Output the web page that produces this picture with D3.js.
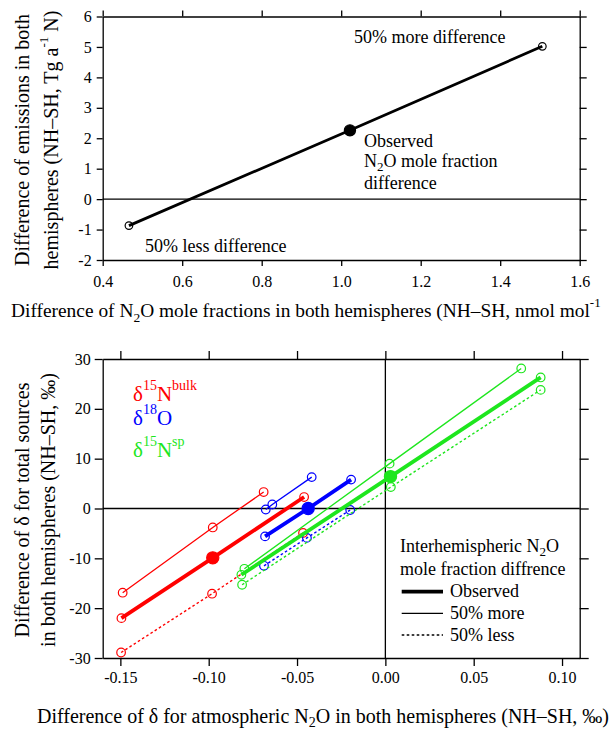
<!DOCTYPE html>
<html>
<head>
<meta charset="utf-8">
<script src="https://cdn.jsdelivr.net/npm/d3@7"></script>
<style>
  body { margin: 0; background: #fff; }
  svg text { font-family: "Liberation Serif", "Times New Roman", serif; }
</style>
</head>
<body>
<svg id="fig" width="613" height="730"></svg>
<script>
// upper panel: emission difference vs. interhemispheric mole fraction difference
const moleDiff = [0.466, 1.022, 1.506];
const emisDiff = [-0.87, 2.26, 5.02];
const moleTicks = [0.4, 0.6, 0.8, 1.0, 1.2, 1.4, 1.6];
const emisTicks = [-2, -1, 0, 1, 2, 3, 4, 5, 6];

// lower panel: source delta vs atmospheric delta (x = atmosphere, y = sources)
const bulkObsX = [-0.1494, -0.0977, -0.0460];
const bulkObsY = [-22.0, -9.9, 2.3];
const bulkMoreX = [-0.1487, -0.0977, -0.0689];
const bulkMoreY = [-16.9, -3.8, 3.3];
const bulkLessX = [-0.1496, -0.0981, -0.0466];
const bulkLessY = [-28.9, -17.1, -4.9];

const o18ObsX = [-0.0681, -0.0437, -0.0194];
const o18ObsY = [-5.6, 0.0, 5.8];
const o18MoreX = [-0.0677, -0.0640, -0.0417];
const o18MoreY = [-0.2, 0.8, 6.3];
const o18LessX = [-0.0687, -0.0444, -0.0199];
const o18LessY = [-11.5, -5.9, -0.3];

const spObsX = [-0.0815, 0.0029, 0.0879];
const spObsY = [-13.3, 6.4, 26.3];
const spMoreX = [-0.0798, 0.0024, 0.0769];
const spMoreY = [-12.1, 9.0, 28.1];
const spLessX = [-0.0811, 0.0031, 0.0879];
const spLessY = [-15.3, 4.3, 23.8];

const atmTicks = [-0.15, -0.10, -0.05, 0, 0.05, 0.10];
const srcTicks = [-30, -20, -10, 0, 10, 20, 30];

const RED = '#ff0000', BLUE = '#0000ff', GREEN = '#1ee61e';

class Panel {

  constructor(config) {
    this.config = {
      parent: config.parent,
      left: config.left,
      top: config.top,
      width: config.width,
      height: config.height,
      x_domain: config.x_domain,
      y_domain: config.y_domain,
      x_ticks: config.x_ticks,
      y_ticks: config.y_ticks,
      x_format: config.x_format,
      y_format: config.y_format || (d => String(d)),
      tick: config.tick || 7,
      x_pad: config.x_pad || 8,
      y_pad: config.y_pad || 5,
    }
    this.init()
  }

  init() {
    let self = this
    let c = self.config

    self.g = c.parent.append('g')
      .attr('transform', 'translate(' + c.left + ',' + c.top + ')')

    self.x_scale = d3.scaleLinear().domain(c.x_domain).range([0, c.width])
    self.y_scale = d3.scaleLinear().domain(c.y_domain).range([c.height, 0])

    self.marks = self.g.append('g')
    self.axes = self.g.append('g')
  }

  zeroLines(vertical) {
    let self = this
    let c = self.config
    self.marks.append('line')
      .attr('x1', 0).attr('x2', c.width)
      .attr('y1', self.y_scale(0)).attr('y2', self.y_scale(0))
      .attr('stroke', '#000').attr('stroke-width', 1.3)
    if (vertical) {
      self.marks.append('line')
        .attr('x1', self.x_scale(0)).attr('x2', self.x_scale(0))
        .attr('y1', 0).attr('y2', c.height)
        .attr('stroke', '#000').attr('stroke-width', 1.3)
    }
  }

  series(xs, ys, color, width, dash, filledMid, r) {
    let self = this
    let pts = xs.map((x, i) => ({ x: x, y: ys[i], i: i }))
    self.marks.append('path')
      .datum(pts)
      .attr('fill', 'none')
      .attr('stroke', color)
      .attr('stroke-width', width)
      .attr('stroke-dasharray', dash)
      .attr('d', d3.line().x(d => self.x_scale(d.x)).y(d => self.y_scale(d.y)))

    self.marks.selectAll(null)
      .data(pts)
      .enter().append('circle')
      .attr('cx', d => self.x_scale(d.x))
      .attr('cy', d => self.y_scale(d.y))
      .attr('r', d => (filledMid && d.i === 1) ? r + 1.8 : r)
      .attr('fill', d => (filledMid && d.i === 1) ? color : 'none')
      .attr('stroke', color)
      .attr('stroke-width', 1.2)
  }

  frame() {
    let self = this
    let c = self.config
    const style = g => {
      g.attr('font-size', 16)
      g.selectAll('path, line').attr('stroke-width', 1.3)
    }

    self.axes.append('g')
      .attr('transform', 'translate(0,' + c.height + ')')
      .call(d3.axisBottom(self.x_scale).tickValues(c.x_ticks).tickFormat(c.x_format)
        .tickSize(c.tick).tickSizeOuter(0).tickPadding(c.x_pad))
      .call(style)

    self.axes.append('g')
      .call(d3.axisTop(self.x_scale).tickValues(c.x_ticks).tickFormat('')
        .tickSize(c.tick).tickSizeOuter(0))
      .call(style)

    self.axes.append('g')
      .call(d3.axisLeft(self.y_scale).tickValues(c.y_ticks).tickFormat(c.y_format)
        .tickSize(c.tick).tickSizeOuter(0).tickPadding(c.y_pad))
      .call(style)

    self.axes.append('g')
      .attr('transform', 'translate(' + c.width + ',0)')
      .call(d3.axisRight(self.y_scale).tickValues(c.y_ticks).tickFormat('')
        .tickSize(c.tick + 1).tickSizeOuter(0))
      .call(style)
  }
}

const svg = d3.select('#fig')
svg.append('rect').attr('width', 613).attr('height', 730).attr('fill', '#fff')

// ---------- upper panel ----------
const upper = new Panel({
  parent: svg, left: 102.7, top: 16.5, width: 477, height: 243.5,
  x_domain: [0.4, 1.6], y_domain: [-2, 6],
  x_ticks: moleTicks, y_ticks: emisTicks,
  x_format: d => d.toFixed(1),
  tick: 6, x_pad: 10, y_pad: 5,
})
upper.zeroLines(false)
upper.series(moleDiff, emisDiff, '#000', 2.8, null, true, 3.8)
upper.frame()

const ann = svg.append('g').attr('font-size', 18)
ann.append('text').attr('x', 354).attr('y', 43).text('50% more difference')
ann.append('text').attr('x', 364).attr('y', 147).text('Observed')
let t = ann.append('text').attr('x', 364).attr('y', 167)
t.append('tspan').text('N')
t.append('tspan').attr('font-size', 13).attr('dy', 4).text('2')
t.append('tspan').attr('dy', -4).text('O mole fraction')
ann.append('text').attr('x', 364).attr('y', 189).text('difference')
ann.append('text').attr('x', 145).attr('y', 252).text('50% less difference')

// axis titles, upper
t = svg.append('text').attr('x', 11).attr('y', 317).attr('font-size', 19.4)
t.append('tspan').text('Difference of N')
t.append('tspan').attr('font-size', 13.5).attr('dy', 5).text('2')
t.append('tspan').attr('dy', -5).text('O mole fractions in both hemispheres (NH–SH, nmol mol')
t.append('tspan').attr('font-size', 13).attr('dy', -10).text('-1')

svg.append('text')
  .attr('transform', 'translate(29,140) rotate(-90)')
  .attr('text-anchor', 'middle').attr('font-size', 20)
  .text('Difference of emissions in both')
t = svg.append('text')
  .attr('transform', 'translate(58,140) rotate(-90)')
  .attr('text-anchor', 'middle').attr('font-size', 20)
t.append('tspan').text('hemispheres (NH–SH, Tg a')
t.append('tspan').attr('font-size', 13).attr('dy', -10).text('-1')
t.append('tspan').attr('dy', 10).text(' N)')

// ---------- lower panel ----------
const lower = new Panel({
  parent: svg, left: 102.7, top: 359, width: 477, height: 299,
  x_domain: [-0.16, 0.11], y_domain: [-30, 30],
  x_ticks: atmTicks, y_ticks: srcTicks,
  x_format: d => d.toFixed(2),
  tick: 8, x_pad: 6, y_pad: 4,
})
lower.zeroLines(true)

const DOT = '2.6,2.4'
lower.series(bulkMoreX, bulkMoreY, RED, 1.3, null, false, 4.3)
lower.series(bulkLessX, bulkLessY, RED, 1.4, DOT, false, 4.3)
lower.series(bulkObsX, bulkObsY, RED, 3.8, null, true, 4.3)
lower.series(o18MoreX, o18MoreY, BLUE, 1.3, null, false, 4.3)
lower.series(o18LessX, o18LessY, BLUE, 1.4, DOT, false, 4.3)
lower.series(o18ObsX, o18ObsY, BLUE, 3.8, null, true, 4.3)
lower.series(spMoreX, spMoreY, GREEN, 1.3, null, false, 4.3)
lower.series(spLessX, spLessY, GREEN, 1.4, DOT, false, 4.3)
lower.series(spObsX, spObsY, GREEN, 3.8, null, true, 4.3)
lower.frame()

// isotope labels
const isoLabel = (y, color, sup1, main, sup2) => {
  let tx = svg.append('text').attr('x', 133).attr('y', y).attr('fill', color).attr('font-size', 21)
  tx.append('tspan').text('δ')
  tx.append('tspan').attr('font-size', 14).attr('dy', -11).text(sup1)
  tx.append('tspan').attr('dy', 11).text(main)
  if (sup2) tx.append('tspan').attr('font-size', 14).attr('dy', -11).text(sup2)
}
isoLabel(400.7, RED, '15', 'N', 'bulk')
isoLabel(425, BLUE, '18', 'O', null)
isoLabel(456.7, GREEN, '15', 'N', 'sp')

// line style legend
const leg = svg.append('g').attr('font-size', 18)
t = leg.append('text').attr('x', 400).attr('y', 552)
t.append('tspan').text('Interhemispheric N')
t.append('tspan').attr('font-size', 13).attr('dy', 4).text('2')
t.append('tspan').attr('dy', -4).text('O')
leg.append('text').attr('x', 400).attr('y', 575).text('mole fraction diffrence')
const legRows = [
  { label: 'Observed', y: 591.7, w: 3.8, dash: null },
  { label: '50% more', y: 613.3, w: 1.3, dash: null },
  { label: '50% less', y: 635, w: 1.4, dash: DOT },
]
legRows.forEach(r => {
  leg.append('line')
    .attr('x1', 401.7).attr('x2', 443).attr('y1', r.y).attr('y2', r.y)
    .attr('stroke', '#000').attr('stroke-width', r.w).attr('stroke-dasharray', r.dash)
  leg.append('text').attr('x', 450).attr('y', r.y + 5.5).text(r.label)
})

// axis titles, lower
t = svg.append('text').attr('x', 37).attr('y', 723).attr('font-size', 20)
t.append('tspan').text('Difference of δ for atmospheric N')
t.append('tspan').attr('font-size', 14).attr('dy', 4).text('2')
t.append('tspan').attr('dy', -4).text('O in both hemispheres (NH–SH, ‰)')

svg.append('text')
  .attr('transform', 'translate(29,510) rotate(-90)')
  .attr('text-anchor', 'middle').attr('font-size', 20)
  .text('Difference of δ for total sources')
svg.append('text')
  .attr('transform', 'translate(55,510) rotate(-90)')
  .attr('text-anchor', 'middle').attr('font-size', 20)
  .text('in both hemispheres (NH–SH, ‰)')
</script>
</body>
</html>
